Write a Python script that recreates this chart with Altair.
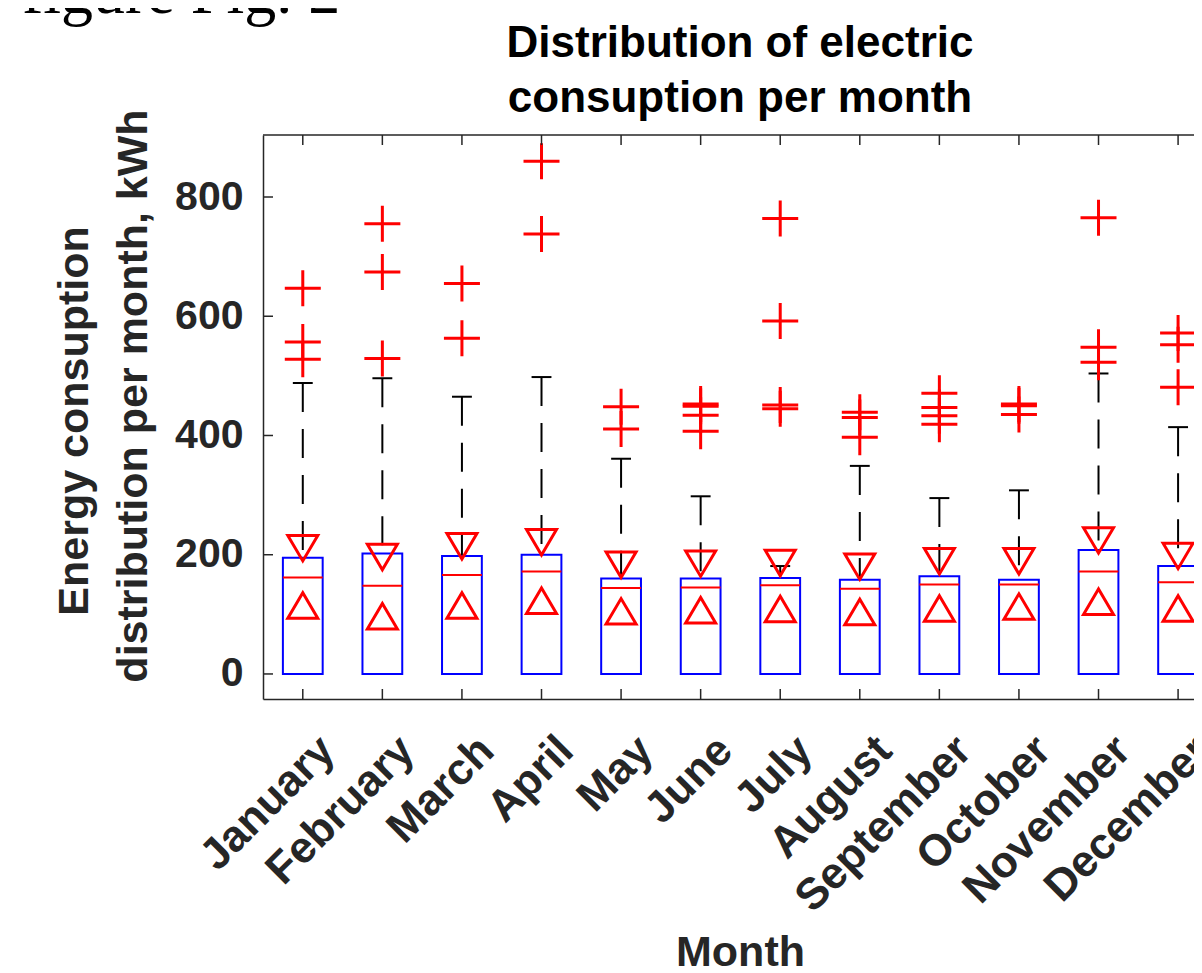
import json
import altair as alt
import pandas as pd

# ---------------- data ----------------
months = ["January", "February", "March", "April", "May", "June", "July",
          "August", "September", "October", "November", "December"]
month_num = [1, 2, 3, 4, 5, 6, 7, 8, 9, 10, 11, 12]
q1 = [0, 0, 0, 0, 0, 0, 0, 0, 0, 0, 0, 0]
q3 = [195, 202, 198, 200, 160, 160, 161, 158, 164, 158, 208, 181]
median = [162, 148, 166, 172, 144, 145, 149, 143, 150, 150, 172, 154]
notch_hi = [211, 196, 214, 221, 183, 185, 186, 180, 189, 189, 224, 198]
notch_lo = [115, 97, 115, 123, 105, 107, 109, 104, 110, 113, 121, 110]
whisker_hi = [488, 496, 465, 498, 361, 298, 181, 349, 295, 308, 504, 414]

out_jan = [647, 557, 528]
out_feb = [755, 674, 529]
out_mar = [655, 563]
out_apr = [860, 738]
out_may = [448, 411]
out_jun = [453, 449, 434, 407]
out_jul = [764, 592, 451, 445]
out_aug = [439, 430, 397]
out_sep = [471, 447, 433, 419]
out_oct = [453, 450, 435]
out_nov = [765, 548, 523]
out_dec = [572, 552, 481]
outliers = [out_jan, out_feb, out_mar, out_apr, out_may, out_jun,
            out_jul, out_aug, out_sep, out_oct, out_nov, out_dec]

y_ticks = [0, 200, 400, 600, 800]
title_lines = ["Distribution of electric", "consuption per month"]
ytitle_lines = ["Energy consuption", "distribution per month, kWh"]
x_title = "Month"
fig_label = "figure Fig. 2"

# ---------------- tables ----------------
box_df = pd.DataFrame({"m": month_num, "q1": q1, "q3": q3, "med": median,
                       "nh": notch_hi, "nl": notch_lo, "wh": whisker_hi})
out_df = pd.DataFrame([{"m": m, "v": v} for m, vals in zip(month_num, outliers) for v in vals])
ytick_df = pd.DataFrame({"v": y_ticks})
one = lambda s: pd.DataFrame({"t": [s]})

W, H = 931, 564
FONT = "Liberation Sans"
AX = "#262626"
RED = "#FF0000"
BLUE = "#0000FF"

xs = alt.Scale(domain=[0.5, 12.2], nice=False, zero=False)
ys = alt.Scale(domain=[-42, 904], nice=False, zero=False)

xaxis = alt.Axis(
    values=month_num, labelExpr=json.dumps(months) + "[datum.value - 1]",
    labelAngle=315, labelAlign="right", labelBaseline="top",
    labelPadding=29, labelOffset=9, labelFlush=False, labelOverlap=False, labelBound=False,
    labelLimit=600,
    ticks=False, grid=False, domainColor=AX, domainWidth=1.5,
    labelFont=FONT, labelFontWeight="bold", labelFontSize=44, labelColor=AX,
    title=x_title, titleFont=FONT, titleFontWeight="bold", titleFontSize=43, titleColor=AX,
    titleX=477, titleY=266, titleAlign="center", titleBaseline="alphabetic", titleAngle=0,
)
yaxis = alt.Axis(
    values=y_ticks, ticks=False, grid=False, domainColor=AX, domainWidth=1.5,
    labelPadding=20, labelFont=FONT, labelFontWeight="bold", labelFontSize=41, labelColor=AX,
    labelFlush=False, labelOverlap=False, title="",
)

X = lambda f: alt.X(f, scale=xs, axis=xaxis)
Y = lambda f: alt.Y(f, scale=ys, axis=yaxis)

base = alt.Chart(box_df)

whisker = base.mark_rule(color="black", strokeWidth=2, strokeDash=[29, 17]).encode(
    x=X("m:Q"), y=Y("wh:Q"), y2="q3:Q")

caps = base.transform_calculate(cl="datum.m - 0.125", cr="datum.m + 0.125").mark_rule(
    color="black", strokeWidth=2).encode(x=X("cl:Q"), x2="cr:Q", y=Y("wh:Q"))

box = base.transform_calculate(xl="datum.m - 0.25", xr="datum.m + 0.25").mark_rect(
    stroke=BLUE, strokeWidth=2, fill="white", fillOpacity=0).encode(
    x=X("xl:Q"), x2="xr:Q", y=Y("q1:Q"), y2="q3:Q")

med = base.transform_calculate(xl="datum.m - 0.25", xr="datum.m + 0.25").mark_rule(
    color=RED, strokeWidth=2).encode(x=X("xl:Q"), x2="xr:Q", y=Y("med:Q"))

tri_down = "M-1,-0.85L1,-0.85L0,0.85Z"
tri_up = "M-1,0.85L1,0.85L0,-0.85Z"
plus = "M-1,0L1,0M0,-1L0,1"

notch_hi_m = base.mark_point(shape=tri_down, size=900, filled=False, color=RED,
                             strokeWidth=3, opacity=1).encode(x=X("m:Q"), y=Y("nh:Q"))
notch_lo_m = base.mark_point(shape=tri_up, size=900, filled=False, color=RED,
                             strokeWidth=3, opacity=1).encode(x=X("m:Q"), y=Y("nl:Q"))

out_m = alt.Chart(out_df).mark_point(shape=plus, size=1296, filled=False, color=RED,
                                     strokeWidth=3, opacity=1).encode(x=X("m:Q"), y=Y("v:Q"))

# inward ticks and top frame line
ytk = alt.Chart(ytick_df).mark_rule(color=AX, strokeWidth=1.5).encode(
    y=Y("v:Q"), x=alt.value(0), x2=alt.value(10))
xtk_b = base.mark_rule(color=AX, strokeWidth=1.5).encode(
    x=X("m:Q"), y=alt.value(H), y2=alt.value(H - 10))
xtk_t = base.mark_rule(color=AX, strokeWidth=1.5).encode(
    x=X("m:Q"), y=alt.value(0), y2=alt.value(10))
top_line = alt.Chart(one("frame")).mark_rule(color=AX, strokeWidth=1.5).encode(
    x=alt.value(0), x2=alt.value(W + 20), y=alt.value(0))

# texts
fig_text = alt.Chart(one(fig_label)).mark_text(
    font="Liberation Serif", fontSize=64, align="left", baseline="alphabetic", color="black"
).encode(x=alt.value(-241), y=alt.value(-122), text="t:N")

t1 = alt.Chart(one(title_lines[0])).mark_text(
    font=FONT, fontSize=44, fontWeight="bold", align="center", baseline="alphabetic", color="black"
).encode(x=alt.value(477), y=alt.value(-78), text="t:N")
t2 = alt.Chart(one(title_lines[1])).mark_text(
    font=FONT, fontSize=44, fontWeight="bold", align="center", baseline="alphabetic", color="black"
).encode(x=alt.value(477), y=alt.value(-23), text="t:N")

yt1 = alt.Chart(one(ytitle_lines[0])).mark_text(
    font=FONT, fontSize=43, fontWeight="bold", align="center", baseline="alphabetic",
    color=AX, angle=270
).encode(x=alt.value(-175), y=alt.value(286), text="t:N")
yt2 = alt.Chart(one(ytitle_lines[1])).mark_text(
    font=FONT, fontSize=43, fontWeight="bold", align="center", baseline="alphabetic",
    color=AX, angle=270
).encode(x=alt.value(-116), y=alt.value(261), text="t:N")

chart = alt.layer(
    whisker, caps, box, med, notch_hi_m, notch_lo_m, out_m,
    ytk, xtk_b, xtk_t, top_line, fig_text, t1, t2, yt1, yt2
).properties(
    width=W, height=H,
    autosize=alt.AutoSizeParams(type="none"),
    padding={"left": 255, "top": 127, "right": 0, "bottom": 274},
).configure_view(strokeWidth=0)

chart.save("out.html", embed_options={"renderer": "svg", "actions": False})
